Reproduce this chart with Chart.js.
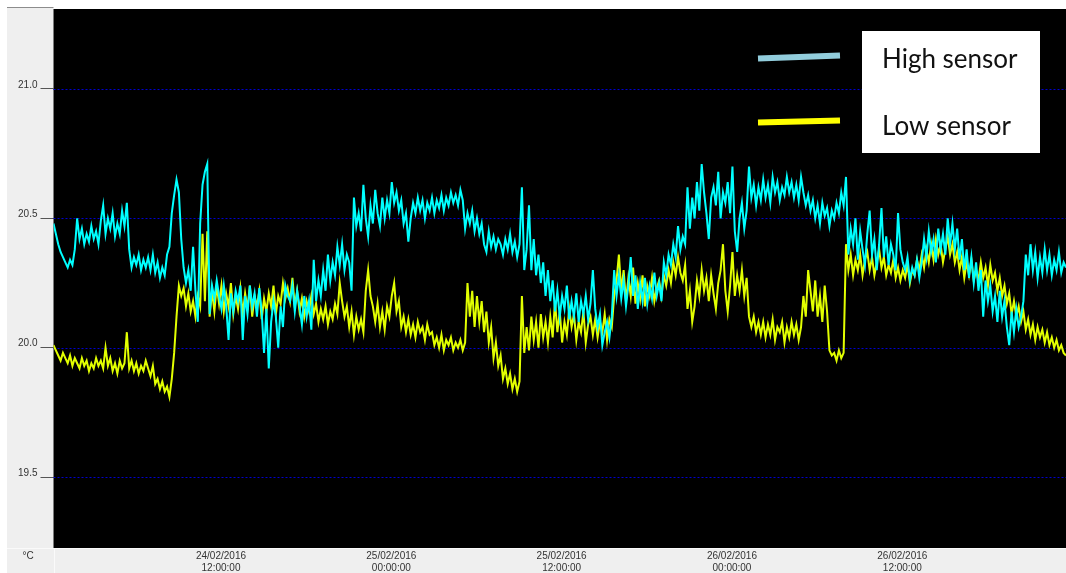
<!DOCTYPE html>
<html>
<head>
<meta charset="utf-8">
<title>Sensor temperatures</title>
<script src="https://cdn.jsdelivr.net/npm/chart.js@4.4.1/dist/chart.umd.min.js"></script>
<style>
  html, body { margin: 0; padding: 0; background: #ffffff; }
  canvas { display: block; }
</style>
</head>
<body>
<canvas id="chart" width="1066" height="573"></canvas>
<script>
// Sampling: hours counted from 24/02/2016 00:00, one reading every 10 minutes
const startHour = 0.2;
const stepHours = 1 / 6;

const seriesNames = ["High sensor", "Low sensor"];

// °C readings, high sensor
const highSensor = [
  20.48,20.44,20.40,20.37,20.35,20.33,20.31,20.34,20.32,20.38,
  20.50,20.42,20.46,20.40,20.44,20.41,20.47,20.42,20.45,20.40,
  20.49,20.55,20.44,20.50,20.46,20.52,20.43,20.48,20.44,20.53,
  20.47,20.56,20.38,20.31,20.35,20.32,20.36,20.30,20.34,20.31,
  20.35,20.30,20.36,20.29,20.33,20.27,20.31,20.28,20.36,20.39,
  20.52,20.59,20.65,20.60,20.42,20.31,20.25,20.30,20.22,20.39,
  20.22,20.10,20.48,20.63,20.68,20.71,20.13,20.24,20.19,20.26,
  20.20,20.15,20.24,20.16,20.03,20.21,20.14,20.22,20.18,20.24,
  20.03,20.20,20.13,20.24,20.16,20.21,20.12,20.23,20.14,19.98,
  20.15,19.92,20.10,20.18,20.12,20.00,20.16,20.08,20.24,20.20,
  20.18,20.24,20.14,20.22,20.16,20.09,20.20,20.12,20.18,20.07,
  20.34,20.18,20.26,20.20,20.30,20.22,20.36,20.26,20.33,20.28,
  20.39,20.32,20.40,20.30,20.36,20.33,20.22,20.58,20.47,20.52,
  20.45,20.63,20.50,20.43,20.55,20.48,20.61,20.52,20.47,20.58,
  20.50,20.57,20.52,20.64,20.56,20.60,20.53,20.57,20.48,20.52,
  20.41,20.50,20.56,20.52,20.58,20.53,20.57,20.50,20.56,20.53,
  20.58,20.52,20.57,20.54,20.59,20.53,20.58,20.55,20.60,20.56,
  20.59,20.55,20.61,20.57,20.46,20.52,20.48,20.53,20.45,20.50,
  20.44,20.48,20.40,20.37,20.45,20.39,20.43,20.38,20.42,20.40,
  20.36,20.42,20.38,20.44,20.37,20.41,20.35,20.40,20.62,20.30,
  20.38,20.55,20.30,20.42,20.28,20.36,20.25,20.33,20.20,20.30,
  20.18,20.26,20.14,20.22,20.12,20.20,20.15,20.24,20.11,20.18,
  20.12,20.21,20.10,20.18,20.13,20.20,20.11,20.17,20.30,20.15,
  20.08,20.13,20.01,20.06,20.10,20.04,20.12,20.30,20.20,20.28,
  20.19,20.26,20.16,20.24,20.35,20.20,20.28,20.15,20.25,20.18,
  20.27,20.17,20.24,20.19,20.29,20.20,20.25,20.18,20.33,20.28,
  20.36,20.32,20.40,20.35,20.47,20.38,20.43,20.40,20.62,20.46,
  20.58,20.50,20.64,20.53,20.71,20.60,20.52,20.42,20.58,20.62,
  20.55,20.68,20.50,20.60,20.56,20.64,20.52,20.70,20.45,20.37,
  20.50,20.56,20.46,20.53,20.70,20.58,20.63,20.55,20.62,20.57,
  20.65,20.58,20.63,20.56,20.66,20.60,20.64,20.57,20.62,20.59,
  20.66,20.60,20.64,20.58,20.63,20.57,20.66,20.60,20.55,20.59,
  20.53,20.57,20.50,20.55,20.48,20.56,20.51,20.54,20.47,20.53,
  20.50,20.56,20.52,20.60,20.55,20.66,20.36,20.46,20.40,20.50,
  20.34,20.45,20.38,20.32,20.44,20.53,20.36,20.42,20.30,20.40,
  20.54,20.35,20.43,20.32,20.40,20.36,20.30,20.52,20.38,20.33,
  20.30,20.35,20.26,20.31,20.28,20.34,20.27,20.33,20.42,20.35,
  20.45,20.37,20.42,20.33,20.46,20.38,20.44,20.36,20.50,20.40,
  20.48,20.38,20.46,20.34,20.42,20.30,20.38,20.27,20.35,20.25,
  20.33,20.22,20.30,20.12,20.26,20.18,20.24,20.14,20.20,20.10,
  20.22,20.12,20.18,20.08,20.01,20.14,20.06,20.15,20.08,20.12,
  20.18,20.36,20.28,20.40,20.30,20.37,20.27,20.35,20.29,20.38,
  20.30,20.36,20.28,20.34,20.30,20.37,20.29,20.33,20.31
];

// °C readings, low sensor
const lowSensor = [
  20.01,19.99,19.97,19.95,19.98,19.96,19.94,19.97,19.93,19.96,
  19.94,19.92,19.96,19.93,19.95,19.91,19.94,19.92,19.96,19.93,
  19.95,19.92,20.00,19.93,19.96,19.91,19.94,19.90,19.95,19.92,
  19.94,20.06,19.92,19.95,19.91,19.94,19.90,19.93,19.91,19.95,
  19.92,19.89,19.93,19.86,19.88,19.84,19.87,19.83,19.85,19.81,
  19.88,19.98,20.12,20.24,20.20,20.23,20.16,20.21,20.14,20.18,
  20.12,20.20,20.16,20.44,20.18,20.45,20.12,20.22,20.14,20.24,
  20.17,20.24,20.14,20.21,20.16,20.25,20.13,20.20,20.15,20.23,
  20.13,20.21,20.15,20.24,20.12,20.20,20.16,20.22,20.11,20.19,
  20.14,20.21,20.16,20.24,20.13,20.20,20.17,20.25,20.19,20.23,
  20.18,20.27,20.16,20.22,20.14,20.19,20.12,20.18,20.14,20.20,
  20.13,20.17,20.10,20.15,20.11,20.16,20.09,20.14,20.11,20.17,
  20.13,20.25,20.18,20.12,20.16,20.08,20.14,20.05,20.12,20.07,
  20.11,20.06,20.22,20.30,20.20,20.16,20.10,20.17,20.08,20.14,
  20.07,20.16,20.12,20.20,20.25,20.14,20.18,20.08,20.12,20.06,
  20.11,20.05,20.09,20.04,20.10,20.06,20.08,20.03,20.09,20.05,
  20.06,20.01,20.04,20.00,20.05,19.99,20.03,20.01,20.04,19.99,
  20.02,20.00,20.03,19.99,20.02,20.25,20.12,20.22,20.08,20.20,
  20.10,20.18,20.06,20.14,20.02,20.08,19.96,20.02,19.93,19.97,
  19.88,19.92,19.86,19.90,19.84,19.88,19.83,19.87,20.20,19.98,
  20.08,19.99,20.12,20.03,20.10,20.00,20.13,20.04,20.10,20.02,
  20.12,20.04,20.18,20.06,20.14,20.02,20.10,20.05,20.15,20.08,
  20.13,20.03,20.10,20.06,20.14,20.02,20.09,20.12,20.05,20.11,
  20.04,20.10,20.06,20.13,20.03,20.11,20.08,20.20,20.26,20.36,
  20.22,20.30,20.18,20.27,20.20,20.31,20.17,20.25,20.19,20.28,
  20.16,20.24,20.20,20.27,20.18,20.23,20.26,20.20,20.28,20.24,
  20.30,20.25,20.33,20.28,20.35,20.29,20.26,20.32,20.15,20.22,
  20.10,20.16,20.26,20.20,20.30,20.22,20.27,20.18,20.28,20.21,
  20.15,20.25,20.30,20.40,20.22,20.14,20.24,20.37,20.20,20.28,
  20.22,20.30,20.20,20.27,20.12,20.08,20.12,20.06,20.10,20.05,
  20.10,20.04,20.09,20.05,20.11,20.03,20.08,20.06,20.10,20.02,
  20.08,20.04,20.10,20.05,20.09,20.03,20.08,20.20,20.12,20.30,
  20.22,20.14,20.26,20.12,20.20,20.10,20.24,20.14,19.99,19.97,
  19.98,19.95,19.99,19.96,19.98,20.40,20.30,20.36,20.28,20.34,
  20.30,20.36,20.28,20.34,20.37,20.30,20.35,20.28,20.33,20.38,
  20.31,20.35,20.28,20.32,20.29,20.34,20.27,20.31,20.26,20.30,
  20.27,20.32,20.25,20.30,20.28,20.34,20.30,20.36,20.31,20.38,
  20.33,20.40,20.34,20.42,20.36,20.40,20.33,20.38,20.43,20.36,
  20.40,20.33,20.37,20.30,20.35,20.27,20.33,20.28,20.34,20.26,
  20.30,20.26,20.33,20.27,20.31,20.24,20.32,20.26,20.29,20.22,
  20.27,20.20,20.24,20.17,20.21,20.13,20.18,20.12,20.16,20.10,
  20.14,20.07,20.11,20.05,20.09,20.03,20.08,20.04,20.07,20.02,
  20.06,20.01,20.04,20.00,20.03,19.99,20.01,19.98,19.97
];

// Time axis ticks (hours from 24/02/2016 00:00) and their labels
const xTickHours = [12, 24, 36, 48, 60];
const xTickLabels = [
  ["24/02/2016", "12:00:00"],
  ["25/02/2016", "00:00:00"],
  ["25/02/2016", "12:00:00"],
  ["26/02/2016", "00:00:00"],
  ["26/02/2016", "12:00:00"]
];

// Temperature axis
const yTicks = [19.5, 20.0, 20.5, 21.0];
const yMin = 19.226;
const yMax = 21.309;
const unitLabel = "°C";

const lineColors = ["#00ffff", "#e2ff00"];
const swatchColors = ["#92cddc", "#ffff00"];
const gridColor = '#0000d0';
const uiFont = '"Liberation Sans", Arial, sans-serif';

const toPoints = arr => arr.map((v, i) => ({ x: startHour + i * stepHours, y: v }));

// Panels, plot background, unit label
const framePlugin = {
  id: 'frame',
  beforeDraw(chart) {
    const { ctx, chartArea: a, width, height } = chart;
    ctx.save();
    ctx.fillStyle = '#ffffff';
    ctx.fillRect(0, 0, width, height);
    ctx.fillStyle = '#efefef';
    ctx.fillRect(7, 8, a.left - 7, height - 8);
    ctx.fillRect(7, a.bottom, width - 7, height - a.bottom);
    ctx.fillStyle = '#8c8c8c';
    ctx.fillRect(7, 7, a.left - 7, 1);
    ctx.fillStyle = '#000000';
    ctx.fillRect(a.left, a.top, a.right - a.left, a.bottom - a.top);
    ctx.fillStyle = '#fafafa';
    ctx.fillRect(7, a.bottom, width - 7, 1);
    ctx.fillRect(Math.round(a.left), a.bottom, 1, height - a.bottom);
    ctx.fillStyle = '#333333';
    ctx.font = '10px ' + uiFont;
    ctx.textAlign = 'center';
    ctx.textBaseline = 'middle';
    ctx.fillText(unitLabel, 28, 556);
    ctx.restore();
  },
  // dashed horizontal grid, pixel-snapped so every line stays crisp
  beforeDatasetsDraw(chart) {
    const { ctx, chartArea: a, scales } = chart;
    ctx.save();
    ctx.strokeStyle = gridColor;
    ctx.lineWidth = 1;
    ctx.setLineDash([2, 2]);
    scales.y.ticks.forEach(t => {
      const py = Math.round(scales.y.getPixelForValue(t.value)) + 0.5;
      ctx.beginPath();
      ctx.moveTo(a.left, py);
      ctx.lineTo(a.right, py);
      ctx.stroke();
    });
    ctx.restore();
  }
};

// Boxed legend in the upper right
const legendPlugin = {
  id: 'boxLegend',
  afterDraw(chart) {
    const { ctx } = chart;
    ctx.save();
    ctx.fillStyle = '#ffffff';
    ctx.fillRect(862, 31, 178, 122);
    const rows = [
      { y1: 58.5, y2: 55.5, ty: 68 },
      { y1: 122.5, y2: 120.5, ty: 135 }
    ];
    chart.data.datasets.forEach((ds, i) => {
      const r = rows[i];
      ctx.strokeStyle = swatchColors[i];
      ctx.lineWidth = 6;
      ctx.lineCap = 'butt';
      ctx.beginPath();
      ctx.moveTo(758, r.y1);
      ctx.lineTo(840, r.y2);
      ctx.stroke();
      ctx.fillStyle = '#111111';
      ctx.font = '26px Lato, "Open Sans", sans-serif';
      ctx.textAlign = 'left';
      ctx.textBaseline = 'alphabetic';
      ctx.fillText(ds.label, 882, r.ty);
    });
    ctx.restore();
  }
};

const chart = new Chart(document.getElementById('chart'), {
  type: 'line',
  data: {
    datasets: [
      { label: seriesNames[0], data: toPoints(highSensor), borderColor: lineColors[0], backgroundColor: lineColors[0] },
      { label: seriesNames[1], data: toPoints(lowSensor), borderColor: lineColors[1], backgroundColor: lineColors[1] }
    ]
  },
  options: {
    responsive: false,
    animation: false,
    devicePixelRatio: 1,
    layout: { padding: { left: 7, top: 8, right: 0, bottom: 0 } },
    elements: {
      point: { radius: 0, hoverRadius: 0 },
      line: { borderWidth: 2, tension: 0, borderJoinStyle: 'miter' }
    },
    plugins: { legend: { display: false }, tooltip: { enabled: false } },
    events: [],
    scales: {
      x: {
        type: 'linear',
        min: startHour,
        max: startHour + (highSensor.length - 1) * stepHours,
        afterBuildTicks: ax => { ax.ticks = xTickHours.map(v => ({ value: v })); },
        afterFit: ax => { ax.height = 25; },
        grid: { display: false, drawTicks: false },
        border: { display: false },
        ticks: {
          autoSkip: false,
          maxRotation: 0,
          padding: 2,
          color: '#333333',
          font: { family: uiFont, size: 10, lineHeight: 1.2 },
          callback: (v, i) => xTickLabels[i]
        }
      },
      y: {
        min: yMin,
        max: yMax,
        afterBuildTicks: ax => { ax.ticks = yTicks.map(v => ({ value: v })); },
        afterFit: ax => { ax.width = 46.5; },
        grid: { drawOnChartArea: false, drawTicks: true, tickLength: 13, tickColor: '#555555', tickWidth: 1 },
        border: { display: false },
        ticks: {
          padding: 3,
          labelOffset: -4,
          color: '#333333',
          font: { family: uiFont, size: 10 },
          callback: v => v.toFixed(1)
        }
      }
    }
  },
  plugins: [framePlugin, legendPlugin]
});
</script>
</body>
</html>
